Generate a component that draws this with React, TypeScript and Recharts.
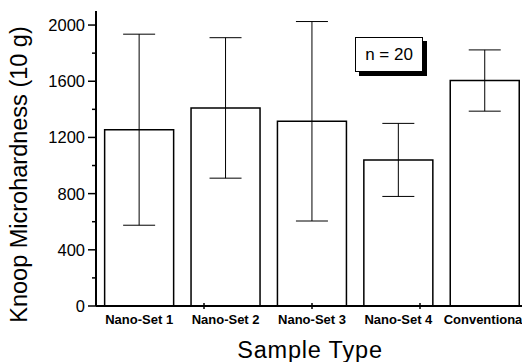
import { BarChart, Bar, XAxis, YAxis, ErrorBar } from "recharts"

const categories = ["Nano-Set 1", "Nano-Set 2", "Nano-Set 3", "Nano-Set 4", "Conventional"]
const hardness = [1255, 1410, 1315, 1040, 1605]
const hardnessErr = [680, 500, 710, 260, 218]
const yTicks = [0, 200, 400, 600, 800, 1000, 1200, 1400, 1600, 1800, 2000]
const boundaryTicks = [1, 2, 3, 4]

const data = categories.map((name, i) => ({ name, value: hardness[i], err: hardnessErr[i] }))

const FONT = "'Liberation Sans', Arial, sans-serif"

function YTick(props: any) {
    const { x, y, payload } = props
    const major = payload.value % 400 === 0
    return (
        <g>
            <line x1={x - (major ? 8 : 4)} x2={x} y1={y} y2={y} stroke="#000" strokeWidth={1.5} />
            {major && (
                <text x={x - 11} y={y} dy={6} textAnchor="end" fontSize={16.5} fontFamily={FONT} fill="#000">
                    {payload.value}
                </text>
            )}
        </g>
    )
}

function CatTick(props: any) {
    const { x, y, payload } = props
    return (
        <text x={x} y={y + 18} textAnchor="middle" fontSize={13} fontWeight="bold" fontFamily={FONT} fill="#000">
            {payload.value}
        </text>
    )
}

function BoundaryTick(props: any) {
    const { x, y } = props
    return <line x1={x} x2={x} y1={y - 3} y2={y + 3} stroke="#000" strokeWidth={1.5} />
}

export default function App() {
    return (
        <div style={{ position: "absolute", left: 0, top: 0, width: 522, height: 362, overflow: "hidden", background: "#fff" }}>
            <BarChart width={528} height={362} data={data} margin={{ top: 11, right: 0, left: 0, bottom: 0 }} barCategoryGap="10%">
                <YAxis
                    domain={[0, 2100]}
                    ticks={yTicks}
                    interval={0}
                    width={96}
                    tickSize={0}
                    tickMargin={0}
                    tick={<YTick />}
                    axisLine={{ stroke: "#000", strokeWidth: 2 }}
                    tickLine={false}
                    label={{
                        content: ({ viewBox }: any) => {
                            const cx = 19
                            const cy = viewBox.y + viewBox.height / 2 + 16
                            return (
                                <text x={cx} y={cy} transform={`rotate(-90 ${cx} ${cy})`} textAnchor="middle" dominantBaseline="central" fontSize={23.5} fontFamily={FONT} fill="#000">
                                    Knoop Microhardness (10 g)
                                </text>
                            )
                        },
                    }}
                />
                <XAxis
                    xAxisId="grid"
                    type="number"
                    domain={[0, 5]}
                    ticks={boundaryTicks}
                    mirror
                    axisLine={false}
                    tickLine={false}
                    tickSize={0}
                    tickMargin={0}
                    tick={<BoundaryTick />}
                />
                <XAxis
                    xAxisId="cat"
                    dataKey="name"
                    height={56}
                    interval={0}
                    tickSize={0}
                    tickMargin={0}
                    tick={<CatTick />}
                    tickLine={false}
                    axisLine={{ stroke: "#000", strokeWidth: 2 }}
                    label={{
                        content: ({ viewBox }: any) => (
                            <text x={viewBox.x + viewBox.width / 2 - 2} y={358} textAnchor="middle" fontSize={23.5} letterSpacing={0.8} fontFamily={FONT} fill="#000">
                                Sample Type
                            </text>
                        ),
                    }}
                />
                <Bar xAxisId="cat" dataKey="value" fill="#fff" stroke="#000" strokeWidth={1.5} isAnimationActive={false}>
                    <ErrorBar dataKey="err" width={16} stroke="#000" strokeWidth={1} direction="y" />
                </Bar>
            </BarChart>
            <div
                style={{
                    position: "absolute",
                    left: 355,
                    top: 37,
                    width: 66,
                    height: 33,
                    border: "1.5px solid #000",
                    boxShadow: "4px 4px 0 #000",
                    background: "#fff",
                    fontFamily: FONT,
                    fontSize: 17,
                    lineHeight: "33px",
                    textAlign: "center",
                    color: "#000",
                }}
            >
                n = 20
            </div>
        </div>
    )
}
